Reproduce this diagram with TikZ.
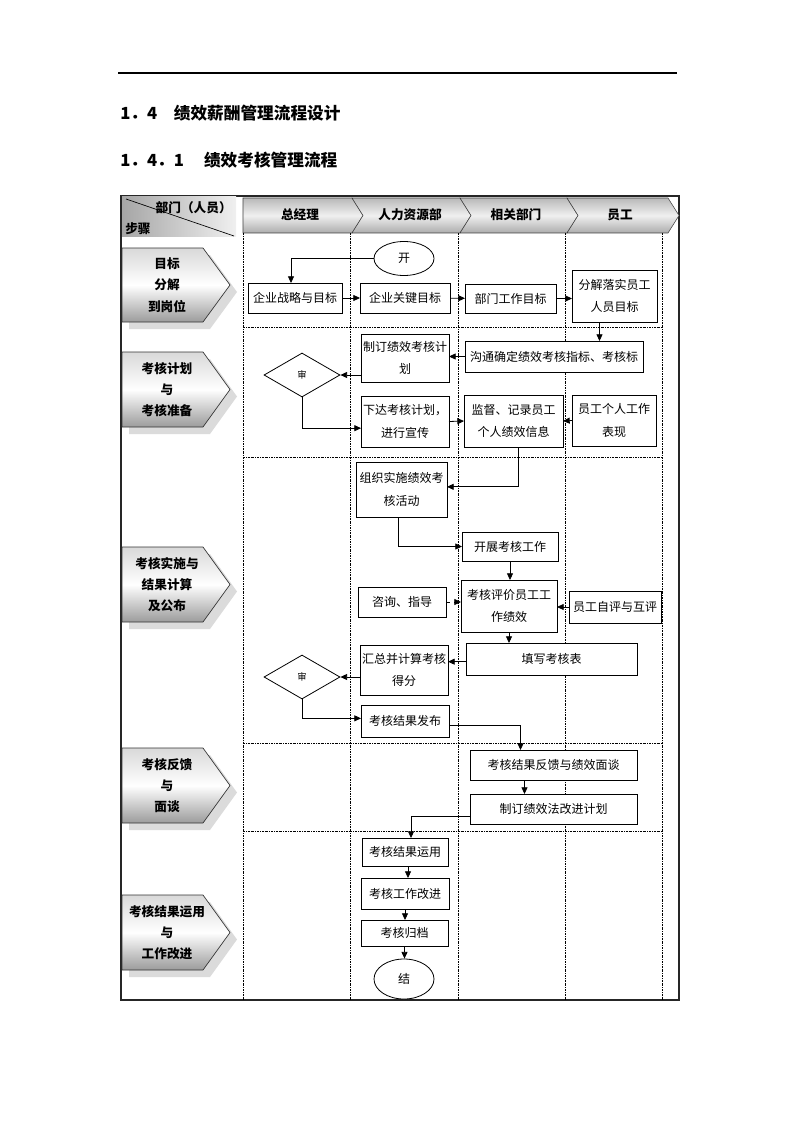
\documentclass[tikz,border=0pt]{standalone}
\usepackage{fontspec}
\setmainfont{Noto Sans CJK SC}
\usetikzlibrary{arrows.meta,shapes.geometric}
\newcommand\bx[6]{\node[box,minimum width={(#4-#2)*0.75pt},minimum height={(#5-#3)*0.75pt}] (#1) at ({(#2+#4)/2},{(#3+#5)/2}) {#6};}
\newcommand\lbl[4]{%
 \fill[gray!28] (129,{#2+7}) -- (210,{#2+7}) -- (237,{(#2+#3)/2+7}) -- (210,{#3+7}) -- (129,{#3+7}) -- cycle;
 \path[draw=gray!40!black,line width=0.5pt,top color=gray!30,bottom color=gray!78,middle color=white] (122,#2) -- (203,#2) -- (230,{(#2+#3)/2}) -- (203,#3) -- (122,#3) -- cycle;
 \node[lab] (#1) at (167,{(#2+#3)/2}) {#4};}
\begin{document}
\begin{tikzpicture}[x=0.75pt,y=-0.75pt,
  box/.style={draw=black,line width=0.6pt,fill=white,inner sep=0pt,outer sep=0pt,align=center,font=\fontsize{9}{17}\selectfont},
  arr/.style={-{Triangle[length=5pt,width=4.5pt]},line width=0.6pt},
  lane/.style={line width=0.5pt,dash pattern=on 1.5pt off 0.8pt on 0.4pt off 0.8pt},
  lab/.style={font=\fontsize{9.5}{16}\selectfont\bfseries,align=center,inner sep=0pt},
  hdr/.style={font=\fontsize{9.5}{11}\selectfont\bfseries,inner sep=0pt},
  ttl/.style={font=\fontsize{12.5}{15}\selectfont\bfseries,anchor=west,inner sep=0pt},
  term/.style={draw,ellipse,line width=0.6pt,fill=white,inner sep=0pt,minimum width=45pt,font=\fontsize{9}{11}\selectfont},
  dec/.style={draw,diamond,line width=0.6pt,fill=white,inner sep=0pt,minimum width=57pt,minimum height=33pt,font=\fontsize{7}{8}\selectfont}]
\useasboundingbox (0,0) rectangle (794,1123);
\fill[white] (0,0) rectangle (794,1123);
% top rule and titles
\draw[line width=0.8pt] (118,73) -- (677,73);
\node[ttl] (t1) at (120,113) {1．4\hspace{1em}绩效薪酬管理流程设计};
\node[ttl] (t2) at (120,160) {1．4．1\hspace{1.2em}绩效考核管理流程};
% frame
\draw[line width=0.8pt,gray!30!black] (121,196) rectangle (679,1000);
% top-left cell
\path[left color=gray!70,right color=gray!12] (122,197) rectangle (236,237);
\draw[line width=0.5pt] (126,199) -- (234,236);
\node[hdr,anchor=east] (bm) at (232,208) {部门（人员）};
\node[hdr,anchor=west] (bz) at (125,229) {步骤};
% header chevrons
\path[draw=gray!50!black,line width=0.4pt,top color=gray!55,bottom color=gray!65,middle color=gray!12] (243,198) -- (352,198) -- (363,215.5) -- (352,233) -- (243,233) -- cycle;
\path[draw=gray!50!black,line width=0.4pt,top color=gray!55,bottom color=gray!65,middle color=gray!12] (352,198) -- (460,198) -- (471,215.5) -- (460,233) -- (352,233) -- (363,215.5) -- cycle;
\path[draw=gray!50!black,line width=0.4pt,top color=gray!55,bottom color=gray!65,middle color=gray!12] (460,198) -- (567,198) -- (578,215.5) -- (567,233) -- (460,233) -- (471,215.5) -- cycle;
\path[draw=gray!50!black,line width=0.4pt,top color=gray!55,bottom color=gray!65,middle color=gray!12] (567,198) -- (668,198) -- (679,215.5) -- (668,233) -- (567,233) -- (578,215.5) -- cycle;
\node[hdr] (h1) at (300,215) {总经理};
\node[hdr] (h2) at (410,215) {人力资源部};
\node[hdr] (h3) at (516,215) {相关部门};
\node[hdr] (h4) at (620,215) {员工};
% lanes
\foreach \x in {243,350,458,565,662} \draw[lane] (\x,233) -- (\x,1000);
\foreach \y in {327,457,743,831} \draw[lane] (243,\y) -- (662,\y);
% left labels
\lbl{l1}{248}{322}{目标\\分解\\到岗位}
\lbl{l2}{352}{427}{考核计划\\与\\考核准备}
\lbl{l3}{547}{622}{考核实施与\\结果计算\\及公布}
\lbl{l4}{748}{823}{考核反馈\\与\\面谈}
\lbl{l5}{895}{970}{考核结果运用\\与\\工作改进}
% row 1
\node[term,minimum height=25.5pt] (kai) at (404,258.5) {开};
\bx{zl}{248}{283}{342}{313}{企业战略与目标}
\bx{gj1}{360}{283}{450}{313}{企业关键目标}
\bx{bm1}{465}{284}{556}{313}{部门工作目标}
\bx{fj}{572}{270}{657}{322}{分解落实员工\\人员目标}
% row 2
\bx{zd}{361}{334}{449}{382}{制订绩效考核计\\划}
\bx{gt}{465}{341}{643}{372}{沟通确定绩效考核指标、考核标}
\node[dec] (sh1) at (302,375) {审};
\bx{xd}{361}{396}{449}{447}{下达考核计划，\\进行宣传}
\bx{jd}{464}{395}{563}{447}{监督、记录员工\\个人绩效信息}
\bx{yg}{572}{395}{656}{446}{员工个人工作\\表现}
% row 3
\bx{zz}{356}{462}{447}{517}{组织实施绩效考\\核活动}
\bx{kz}{462}{532}{558}{561}{开展考核工作}
\bx{zx}{358}{587}{446}{617}{咨询、指导}
\bx{kp}{461}{580}{557}{632}{考核评价员工工\\作绩效}
\bx{zp}{569}{591}{661}{623}{员工自评与互评}
\bx{tx}{466}{643}{637}{675}{填写考核表}
\bx{hz}{360}{645}{448}{695}{汇总并计算考核\\得分}
\node[dec] (sh2) at (302,677) {审};
\bx{fb}{361}{705}{449}{737}{考核结果发布}
% row 4
\bx{fk}{470}{750}{637}{780}{考核结果反馈与绩效面谈}
\bx{gjjh}{470}{794}{637}{824}{制订绩效法改进计划}
% row 5
\bx{yy}{362}{838}{448}{866}{考核结果运用}
\bx{gzgj}{361}{878}{449}{909}{考核工作改进}
\bx{gd}{361}{920}{448}{946}{考核归档}
\node[term,minimum height=30pt] (jie) at (404,979) {结};
% connectors
\draw[arr] (kai.west) -| ([xshift=-3pt]zl.north);
\draw[arr] (zl) -- (gj1);
\draw[arr] (gj1) -- (bm1);
\draw[arr] (bm1) -- (fj.west |- bm1);
\draw[arr] ([xshift=-11.25pt]fj.south) -- ([xshift=-11.25pt]fj.south |- gt.north);
\draw[arr] (gt.west) -- (zd.east |- gt.west);
\draw[arr] (zd.west |- sh1.east) -- (sh1.east);
\draw[arr] (sh1.south) |- ([yshift=-5pt]xd.west);
\draw[arr] (xd.east) -- (jd.west);
\draw[arr] (yg.west) -- (jd.east);
\draw[arr] ([xshift=3.75pt]jd.south) |- ([yshift=2pt]zz.east);
\draw[arr] ([xshift=-2.25pt]zz.south) |- (kz.west);
\draw[arr] (kz.south) -- (kz.south |- kp.north);
\draw[arr,dashed] (zx.east) -- (kp.west |- zx.east);
\draw[arr] (zp.west) -- (kp.east |- zp.west);
\draw[arr] (kp.south) -- (kp.south |- tx.north);
\draw[arr] ([yshift=-2pt]tx.west) -- ([yshift=-2pt]hz.east |- tx.west);
\draw[arr] (hz.west |- sh2.east) -- (sh2.east);
\draw[arr] (sh2.south) |- ([yshift=2pt]fb.west);
\draw[arr] ([yshift=-3pt]fb.east) -| ([xshift=-24.75pt]fk.north);
\draw[arr] ([xshift=-21.75pt]fk.south) -- ([xshift=-21.75pt]fk.south |- gjjh.north);
\draw[arr] ([yshift=-5.25pt]gjjh.west) -| ([xshift=4.5pt]yy.north);
\draw[arr] ([xshift=2.25pt]yy.south) -- ([xshift=2.25pt]yy.south |- gzgj.north);
\draw[arr] (gzgj.south) -- (gzgj.south |- gd.north);
\draw[arr] (gd.south) -- (gd.south |- jie.north);
\end{tikzpicture}
\end{document}
